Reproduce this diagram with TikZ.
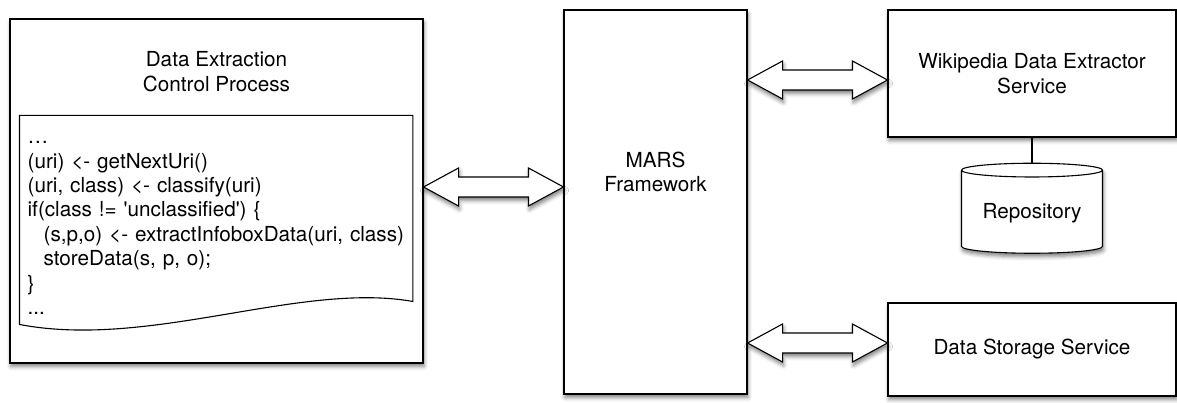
\documentclass[tikz,border=0pt]{standalone}
\usepackage{fontspec}
\setmainfont{TeX Gyre Heros}
\usetikzlibrary{calc,shapes.geometric,shadows.blur}

\begin{document}
\begin{tikzpicture}[x=1pt,y=1pt,
  every node/.style={font=\fontsize{20.7}{24.4}\selectfont},
  shade/.style={blur shadow={shadow xshift=1pt, shadow yshift=-3.5pt, shadow blur radius=4pt, shadow opacity=50}},
  box/.style={draw, fill=white, line width=1.1pt, shade, align=center},
  db/.style={box, cylinder, shape border rotate=90, aspect=0.13, minimum width=141pt, minimum height=90pt},
  fatarrow/.style={draw, fill=white, line width=1.1pt, shade,
    to path={let \p1=(\tikztostart), \p2=(\tikztotarget) in
      (\x1,\y2) -- (\x1+35pt,\y2+19pt) -- (\x1+35pt,\y2+10pt) -- (\x2-35pt,\y2+10pt)
      -- (\x2-35pt,\y2+19pt) -- (\x2,\y2) -- (\x2-35pt,\y2-19pt) -- (\x2-35pt,\y2-10pt)
      -- (\x1+35pt,\y2-10pt) -- (\x1+35pt,\y2-19pt) -- cycle}}]
\useasboundingbox (0,0) rectangle (1177,-403);

\node[box, minimum width=413pt, minimum height=344pt] (ctl) at (216.5,-191) {};
\node[align=center, anchor=north, inner sep=0pt] (title) at ([yshift=-33pt]ctl.north) {Data Extraction\\Control Process};
\node[anchor=north west, align=left, text width=377pt, inner xsep=8pt, inner ysep=11pt] (code)
  at ([xshift=10pt,yshift=-97pt]ctl.north west) {\strut…\\
(uri) <- getNextUri()\\
(uri, class) <- classify(uri)\\
if(class != \textquotesingle unclassified\textquotesingle) \{\\
\hspace*{16pt}(s,p,o) <- extractInfoboxData(uri, class)\\
\hspace*{16pt}storeData(s, p, o);\\
\}\\
...};
\draw[line width=1.1pt] (code.north west) -- (code.north east) -- ([yshift=-186pt]code.north east)
  .. controls ([xshift=-113pt,yshift=-166pt]code.north east) and ([xshift=130pt,yshift=-234pt]code.north west)
  .. ([yshift=-209pt]code.north west) -- cycle;

\node[box, minimum width=183pt, minimum height=384pt,
  label={[yshift=30pt, align=center]center:MARS\\Framework}] (mars) at (655.5,-202) {};
\node[box, minimum width=288pt, minimum height=127pt] (wiki) at (1032,-73.5) {Wikipedia Data Extractor\\Service};
\node[db] (repo) at (1032,-213) {Repository};
\node[box, minimum width=288pt, minimum height=93pt] (store) at (1032,-349.5) {Data Storage Service};

\draw[line width=1.1pt] (wiki) -- (repo);
\draw[fatarrow] (ctl.east) to ([yshift=15pt]mars.west);
\draw[fatarrow] (mars.east) to ([yshift=-6.5pt]wiki.west);
\draw[fatarrow] (mars.east) to ([yshift=6.5pt]store.west);
\end{tikzpicture}
\end{document}
